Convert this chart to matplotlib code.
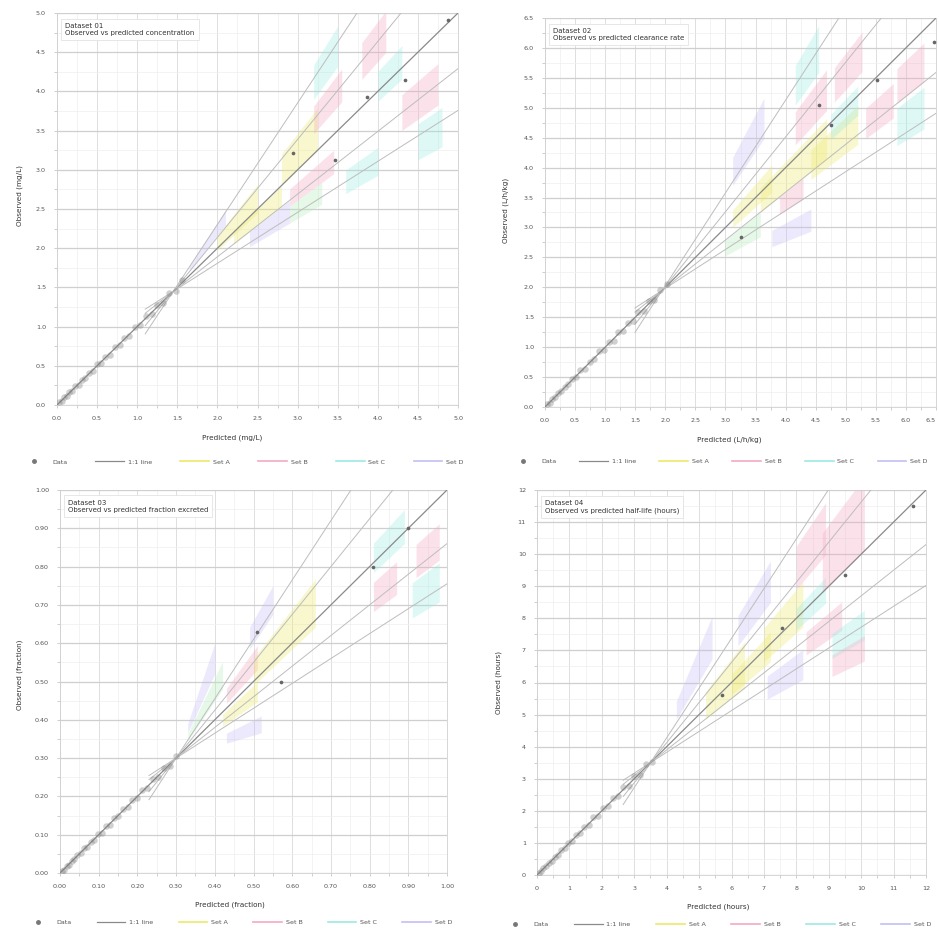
import numpy as np
import matplotlib
matplotlib.use("Agg")
import matplotlib.pyplot as plt
from matplotlib.lines import Line2D

# ---------------- data ----------------
titles = ["Dataset 01", "Dataset 02", "Dataset 03", "Dataset 04"]
subtitles = ["Observed vs predicted concentration",
             "Observed vs predicted clearance rate",
             "Observed vs predicted fraction excreted",
             "Observed vs predicted half-life (hours)"]
x_labels = ["Predicted (mg/L)", "Predicted (L/h/kg)", "Predicted (fraction)", "Predicted (hours)"]
y_labels = ["Observed (mg/L)", "Observed (L/h/kg)", "Observed (fraction)", "Observed (hours)"]
axis_max = [5.0, 6.5, 1.0, 12.0]
tick_step = [0.5, 0.5, 0.1, 1.0]
tick_fmt = ["{:.1f}", "{:.1f}", "{:.2f}", "{:.0f}"]
pivot = [1.45, 1.95, 0.30, 3.5]
line_slopes = [0.65, 0.8, 1.25, 1.55]

legend_labels = ["Data", "1:1 line", "Set A", "Set B", "Set C", "Set D"]

obs_x_1 = [0.03, 0.06, 0.09, 0.12, 0.15, 0.19, 0.23, 0.27, 0.31, 0.35, 0.40, 0.45, 0.50, 0.55, 0.60,
           0.66, 0.72, 0.78, 0.84, 0.90, 0.97, 1.04, 1.11, 1.18, 1.25, 1.32, 1.40, 1.48, 1.56]
obs_y_1 = [0.04, 0.05, 0.10, 0.11, 0.16, 0.18, 0.24, 0.26, 0.32, 0.34, 0.41, 0.44, 0.52, 0.54, 0.61,
           0.64, 0.74, 0.77, 0.86, 0.88, 0.99, 1.02, 1.13, 1.16, 1.28, 1.30, 1.43, 1.46, 1.60]
obs_x_2 = [0.04, 0.08, 0.12, 0.17, 0.22, 0.27, 0.33, 0.39, 0.45, 0.52, 0.59, 0.66, 0.74, 0.82, 0.90,
           0.98, 1.06, 1.14, 1.22, 1.30, 1.38, 1.46, 1.55, 1.64, 1.73, 1.82, 1.92, 2.02]
obs_y_2 = [0.05, 0.07, 0.13, 0.16, 0.23, 0.26, 0.34, 0.38, 0.47, 0.50, 0.61, 0.64, 0.76, 0.80, 0.93,
           0.96, 1.09, 1.11, 1.25, 1.27, 1.41, 1.43, 1.58, 1.61, 1.77, 1.79, 1.95, 2.05]
obs_x_3 = [0.005, 0.010, 0.017, 0.023, 0.030, 0.037, 0.045, 0.053, 0.061, 0.070, 0.079, 0.088, 0.098,
           0.108, 0.118, 0.129, 0.140, 0.151, 0.163, 0.175, 0.187, 0.200, 0.213, 0.226, 0.240, 0.254,
           0.268, 0.283, 0.300]
obs_y_3 = [0.006, 0.009, 0.019, 0.022, 0.032, 0.036, 0.047, 0.051, 0.064, 0.068, 0.082, 0.086, 0.101,
           0.105, 0.122, 0.126, 0.144, 0.148, 0.167, 0.172, 0.191, 0.197, 0.218, 0.222, 0.245, 0.250,
           0.274, 0.279, 0.305]
obs_x_4 = [0.06, 0.13, 0.20, 0.28, 0.36, 0.45, 0.54, 0.64, 0.74, 0.85, 0.96, 1.08, 1.20, 1.33, 1.46,
           1.60, 1.74, 1.88, 2.03, 2.18, 2.34, 2.50, 2.66, 2.83, 3.00, 3.18, 3.36, 3.55]
obs_y_4 = [0.07, 0.12, 0.22, 0.27, 0.38, 0.44, 0.57, 0.62, 0.77, 0.83, 1.00, 1.05, 1.24, 1.30, 1.51,
           1.56, 1.80, 1.84, 2.10, 2.14, 2.41, 2.46, 2.74, 2.78, 3.08, 3.13, 3.45, 3.52]

dots_x_1 = [2.94, 3.47, 3.86, 4.34, 4.88]
dots_y_1 = [3.21, 3.12, 3.93, 4.15, 4.91]
dots_x_2 = [3.26, 4.55, 4.75, 5.52, 6.47]
dots_y_2 = [2.84, 5.05, 4.71, 5.46, 6.10]
dots_x_3 = [0.51, 0.57, 0.81, 0.90]
dots_y_3 = [0.63, 0.50, 0.80, 0.90]
dots_x_4 = [5.7, 7.56, 9.5, 11.6]
dots_y_4 = [5.6, 7.70, 9.35, 11.5]

band_colors = {"A": "#ece96a", "B": "#f4a9c0", "C": "#9ceae4", "D": "#c3bff3", "E": "#b5ecbb"}

band_x0_1 = [1.65, 2.00, 2.20, 2.40, 2.80, 2.90, 2.90, 3.20, 3.20, 3.60, 3.80, 4.00, 4.30, 4.50]
band_x1_1 = [2.10, 2.50, 2.80, 2.90, 3.25, 3.30, 3.45, 3.55, 3.50, 4.00, 4.10, 4.30, 4.75, 4.80]
band_slo_1 = [1.30, 0.95, 0.80, 0.60, 1.00, 0.60, 0.75, 1.15, 1.40, 0.58, 1.15, 0.95, 0.72, 0.55]
band_shi_1 = [1.60, 1.30, 1.00, 0.80, 1.30, 0.75, 0.90, 1.35, 1.65, 0.72, 1.35, 1.10, 0.88, 0.70]
band_set_1 = ["D", "A", "A", "D", "A", "E", "B", "B", "C", "C", "B", "C", "B", "C"]

band_x0_2 = [3.12, 3.58, 4.42, 2.99, 3.12, 3.77, 4.16, 4.81, 5.33, 5.85, 3.90, 4.16, 4.75, 5.85]
band_x1_2 = [3.77, 4.68, 5.20, 3.58, 3.64, 4.42, 4.68, 5.27, 5.79, 6.30, 4.29, 4.55, 5.20, 6.30]
band_slo_2 = [0.90, 0.80, 0.75, 0.55, 1.50, 0.40, 1.10, 1.10, 0.75, 0.80, 0.65, 1.40, 0.90, 0.62]
band_shi_2 = [1.15, 1.05, 0.95, 0.80, 1.90, 0.55, 1.35, 1.30, 0.90, 0.95, 0.80, 1.70, 1.05, 0.78]
band_set_2 = ["A", "A", "A", "E", "D", "D", "B", "B", "B", "B", "B", "C", "C", "C"]

band_x0_3 = [0.33, 0.33, 0.43, 0.42, 0.50, 0.49, 0.43, 0.81, 0.81, 0.92, 0.91]
band_x1_3 = [0.42, 0.40, 0.51, 0.51, 0.66, 0.55, 0.52, 0.89, 0.87, 0.98, 0.98]
band_slo_3 = [1.50, 2.20, 1.10, 0.70, 0.95, 1.50, 0.30, 0.95, 0.75, 0.76, 0.60]
band_shi_3 = [2.10, 3.00, 1.40, 0.95, 1.30, 1.80, 0.50, 1.10, 0.90, 0.90, 0.75]
band_set_3 = ["E", "D", "B", "A", "A", "D", "D", "C", "B", "B", "C"]

band_x0_4 = [4.3, 5.2, 6.0, 6.2, 7.1, 7.0, 8.0, 8.0, 8.8, 8.3, 9.1, 9.1]
band_x1_4 = [5.4, 6.4, 7.2, 7.2, 8.2, 8.2, 8.9, 8.9, 10.1, 9.4, 10.1, 10.1]
band_slo_4 = [1.70, 0.80, 0.85, 1.35, 0.55, 0.90, 0.92, 1.20, 1.00, 0.70, 0.58, 0.48]
band_shi_4 = [2.40, 1.30, 1.10, 1.70, 0.75, 1.20, 1.07, 1.50, 1.35, 0.85, 0.72, 0.60]
band_set_4 = ["D", "A", "A", "D", "D", "A", "C", "B", "B", "B", "C", "B"]

obs_x = [obs_x_1, obs_x_2, obs_x_3, obs_x_4]
obs_y = [obs_y_1, obs_y_2, obs_y_3, obs_y_4]
dots_x = [dots_x_1, dots_x_2, dots_x_3, dots_x_4]
dots_y = [dots_y_1, dots_y_2, dots_y_3, dots_y_4]
bands = [
    (band_x0_1, band_x1_1, band_slo_1, band_shi_1, band_set_1),
    (band_x0_2, band_x1_2, band_slo_2, band_shi_2, band_set_2),
    (band_x0_3, band_x1_3, band_slo_3, band_shi_3, band_set_3),
    (band_x0_4, band_x1_4, band_slo_4, band_shi_4, band_set_4),
]

# ---------------- layout ----------------
W, H = 939, 934
axes_px = [(57, 13, 458, 405), (545, 18, 936, 407), (60, 490, 447, 873), (537, 490, 926, 875)]
xlabel_pos = [(0.436, -0.075), (0.47, -0.075), (0.44, -0.075), (0.465, -0.075)]
ylabel_pos = [(-0.085, 0.535), (-0.092, 0.506), (-0.096, 0.517), (-0.09, 0.50)]
legend_y = [-0.145, -0.14, -0.128, -0.128]
legend_w = [1.12, 1.085, 1.12, 1.12]

plt.rcParams["font.family"] = ["DejaVu Sans"]
fig = plt.figure(figsize=(W / 100, H / 100), dpi=100)
fig.patch.set_facecolor("white")

FS = 4.6
for i in range(4):
    l, t, r, b = axes_px[i]
    ax = fig.add_axes([l / W, 1 - b / H, (r - l) / W, (b - t) / H])
    m = axis_max[i]
    st = tick_step[i]
    ax.set_xlim(0, m)
    ax.set_ylim(0, m)
    ticks = np.arange(0, m + st / 2, st)
    ax.set_xticks(ticks)
    ax.set_yticks(ticks)
    ax.set_xticklabels([tick_fmt[i].format(v) for v in ticks], fontsize=FS, color="#555555")
    ax.set_yticklabels([tick_fmt[i].format(v) for v in ticks], fontsize=FS, color="#555555")
    if r > 930:
        ax.get_xticklabels()[-1].set_horizontalalignment("right")
    ax.set_xticks(np.arange(st / 2, m, st), minor=True)
    ax.set_yticks(np.arange(st / 2, m, st), minor=True)
    ax.tick_params(which="both", length=2, width=0.5, color="#bbbbbb", pad=6)
    ax.grid(True, which="major", axis="y", color="#cfcfcf", lw=0.9)
    ax.grid(True, which="major", axis="x", color="#dedede", lw=0.7)
    ax.grid(True, which="minor", color="#eeeeee", lw=0.5)
    ax.set_axisbelow(True)
    for sp in ax.spines.values():
        sp.set_color("#d0d0d0")
        sp.set_linewidth(0.6)

    p = pivot[i]
    # colored bands between pivot lines
    bx0, bx1, bslo, bshi, bset = bands[i]
    for x0, x1, slo, shi, s in zip(bx0, bx1, bslo, bshi, bset):
        xs = np.linspace(x0, x1, 20)
        ax.fill_between(xs, p + slo * (xs - p), p + shi * (xs - p),
                        color=band_colors[s], alpha=0.33, lw=0)

    # reference lines
    ax.plot([0, m], [0, m], color="#8a8a8a", lw=0.9, zorder=3)
    for s in line_slopes:
        xs = np.array([p - 0.07 * m, m])
        ax.plot(xs, p + s * (xs - p), color="#bdbdbd", lw=0.7, zorder=3)

    # observations
    ax.scatter(obs_x[i], obs_y[i], s=22, color="#7a7a7a", alpha=0.35, lw=0, zorder=4)
    ax.scatter(dots_x[i], dots_y[i], s=7, color="#666666", lw=0, zorder=5)

    # labels
    ax.set_xlabel(x_labels[i], fontsize=FS + 0.6, color="#333333")
    ax.set_ylabel(y_labels[i], fontsize=FS + 0.6, color="#333333")
    ax.xaxis.set_label_coords(*xlabel_pos[i])
    ax.yaxis.set_label_coords(*ylabel_pos[i])

    # title box
    ax.text(0.02, 0.975, titles[i] + "\n" + subtitles[i], transform=ax.transAxes,
            fontsize=FS + 0.4, color="#333333", va="top", ha="left", linespacing=1.3,
            bbox=dict(boxstyle="square,pad=0.6", fc="white", ec="#dddddd", lw=0.5), zorder=6)

    # legend
    handles = [Line2D([], [], marker="o", ls="none", color="#777777", markersize=2.5),
               Line2D([], [], color="#8a8a8a", lw=0.9)]
    for key in ["A", "B", "C", "D"]:
        handles.append(Line2D([], [], color=band_colors[key], lw=1.2))
    ax.legend(handles, legend_labels, loc="center left",
              bbox_to_anchor=(-0.10, legend_y[i], legend_w[i], 0.0),
              mode="expand", ncol=6, frameon=False, fontsize=FS, handlelength=4.5,
              handletextpad=0.6, borderaxespad=0, labelcolor="#555555")

fig.savefig("out.png", dpi=100, facecolor="white")
